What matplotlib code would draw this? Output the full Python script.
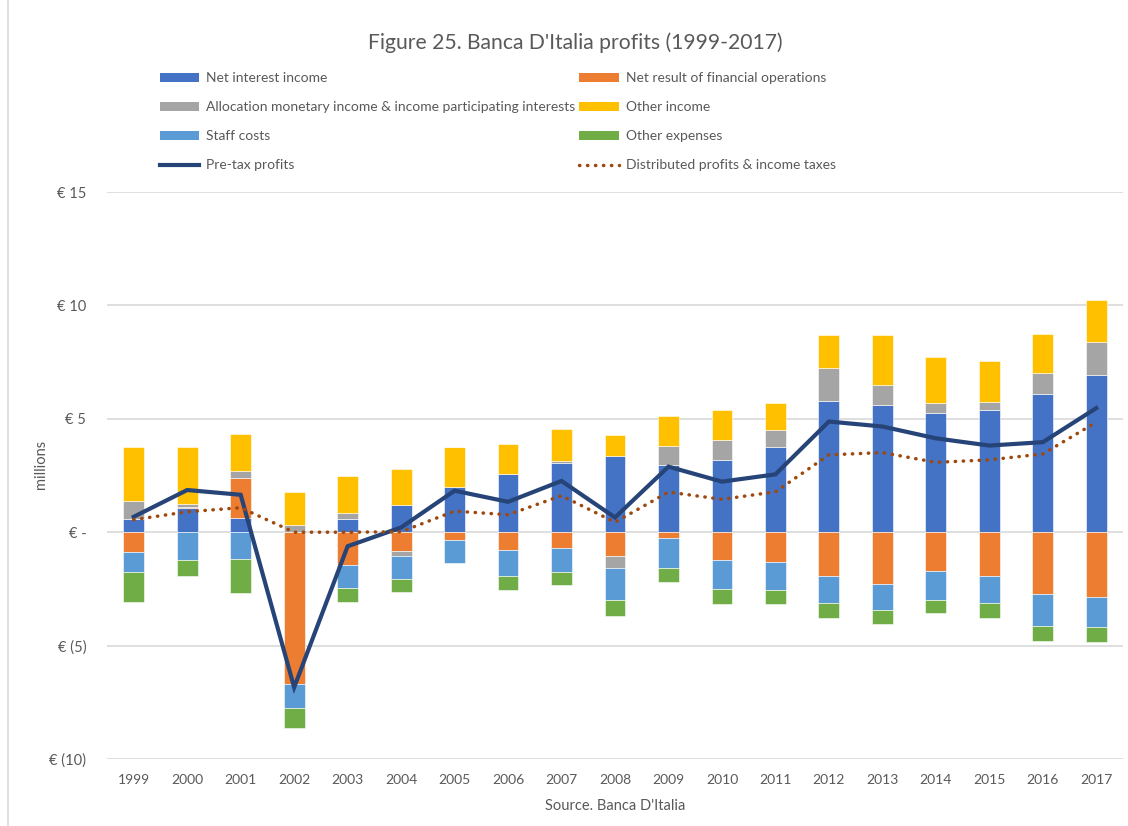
import numpy as np
import matplotlib.pyplot as plt
from matplotlib.lines import Line2D
from matplotlib.patches import Patch

plt.rcParams['font.family'] = ['Lato', 'DejaVu Sans']

years = [str(y) for y in range(1999, 2018)]

net_interest = [0.58, 1.05, 0.63, 0.03, 0.58, 1.22, 1.98, 2.57, 3.07, 3.36,
                2.98, 3.19, 3.76, 5.80, 5.59, 5.27, 5.41, 6.09, 6.93]
fin_ops = [-0.86, 0.06, 1.77, -6.70, -1.46, -0.84, -0.35, -0.78, -0.68, -1.06,
           -0.25, -1.24, -1.31, -1.92, -2.27, -1.71, -1.93, -2.73, -2.86]
allocation = [0.78, 0.12, 0.30, 0.30, 0.27, -0.19, 0.0, 0.0, 0.06, -0.53,
              0.84, 0.88, 0.74, 1.42, 0.88, 0.43, 0.35, 0.94, 1.47]
other_income = [2.40, 2.54, 1.62, 1.46, 1.61, 1.58, 1.78, 1.30, 1.42, 0.91,
                1.31, 1.33, 1.19, 1.47, 2.24, 2.01, 1.80, 1.73, 1.83]
staff_costs = [-0.90, -1.24, -1.18, -1.03, -1.00, -1.02, -1.02, -1.17, -1.06, -1.39,
               -1.31, -1.28, -1.24, -1.19, -1.17, -1.30, -1.21, -1.40, -1.34]
other_expenses = [-1.30, -0.69, -1.49, -0.90, -0.63, -0.59, 0.0, -0.59, -0.59, -0.72,
                  -0.65, -0.65, -0.62, -0.69, -0.62, -0.55, -0.63, -0.65, -0.62]
pretax = [0.68, 1.86, 1.65, -6.84, -0.62, 0.21, 1.83, 1.34, 2.26, 0.65,
          2.89, 2.23, 2.55, 4.88, 4.66, 4.14, 3.82, 3.97, 5.47]
distributed = [0.55, 0.90, 1.08, 0.0, 0.0, 0.02, 0.93, 0.77, 1.61, 0.44,
               1.77, 1.45, 1.78, 3.41, 3.51, 3.08, 3.19, 3.45, 4.85]

series = [
    ('Net interest income', net_interest, '#4472C4'),
    ('Net result of financial operations', fin_ops, '#ED7D31'),
    ('Allocation monetary income & income participating interests', allocation, '#A5A5A5'),
    ('Other income', other_income, '#FFC000'),
    ('Staff costs', staff_costs, '#5B9BD5'),
    ('Other expenses', other_expenses, '#70AD47'),
]

fig = plt.figure(figsize=(11.28, 8.26), dpi=100)
ax = fig.add_axes([107 / 1128, 1 - 759 / 826, (1123 - 107) / 1128, (759 - 192) / 826])

x = np.arange(len(years))
pos_base = np.zeros(len(years))
neg_base = np.zeros(len(years))
handles = {}
for name, vals, col in series:
    v = np.array(vals)
    bottom = np.where(v >= 0, pos_base, neg_base)
    ax.bar(x, v, width=0.39, bottom=bottom, color=col, edgecolor='white',
           linewidth=0.4, zorder=2)
    pos_base = pos_base + np.where(v >= 0, v, 0)
    neg_base = neg_base + np.where(v < 0, v, 0)
    handles[name] = Patch(facecolor=col, edgecolor='none')

ax.plot(x, pretax, color='#264478', lw=3, zorder=3, solid_joinstyle='miter')
ax.plot(x, distributed, color='#9E480E', lw=2.5, ls=(0, (0.1, 2.2)),
        dash_capstyle='round', zorder=3)
handles['Pre-tax profits'] = Line2D([], [], color='#264478', lw=3)
handles['Distributed profits & income taxes'] = Line2D([], [], color='#9E480E', lw=2.5,
                                                       ls=(0, (0.1, 2.2)), dash_capstyle='round')

ax.set_xlim(-0.5, len(years) - 0.5)
ax.set_ylim(-10, 15)
ax.set_yticks([15, 10, 5, 0, -5, -10])
ax.set_yticklabels(['€ 15', '€ 10', '€ 5', '€ -', '€ (5)', '€ (10)'])
ax.set_xticks(x)
ax.set_xticklabels(years)
ax.yaxis.grid(True, color='#D9D9D9', lw=1.2, zorder=0)
ax.set_axisbelow(True)
for s in ax.spines.values():
    s.set_visible(False)
ax.tick_params(axis='both', length=0, colors='#595959', labelsize=10.5)
ax.tick_params(axis='x', labelsize=10)
ax.tick_params(axis='y', pad=15)
ax.tick_params(axis='x', pad=11)

ax.set_ylabel('millions', color='#595959', fontsize=10.5)
ax.yaxis.set_label_coords(-0.058, 0.52)
ax.set_xlabel('Source. Banca D\'Italia', color='#595959', fontsize=10.5, labelpad=9)

fig.text(575 / 1128, 1 - 43 / 826, "Figure 25. Banca D'Italia profits (1999-2017)",
         ha='center', va='center', fontsize=15.2, color='#595959')

order = ['Net interest income', 'Allocation monetary income & income participating interests',
         'Staff costs', 'Pre-tax profits',
         'Net result of financial operations', 'Other income', 'Other expenses',
         'Distributed profits & income taxes']
fig.legend([handles[k] for k in order], order, ncol=2, loc='upper left',
           bbox_to_anchor=(147 / 1128, 1 - 60 / 826), frameon=False,
           fontsize=10, labelcolor='#595959', handlelength=2.85, handleheight=0.6,
           handletextpad=0.5, columnspacing=0.3, labelspacing=1.22)

fig.add_artist(Line2D([8 / 1128, 8 / 1128], [0, 1], color='#D9D9D9', lw=1.2))

fig.savefig('out.png', dpi=100)
